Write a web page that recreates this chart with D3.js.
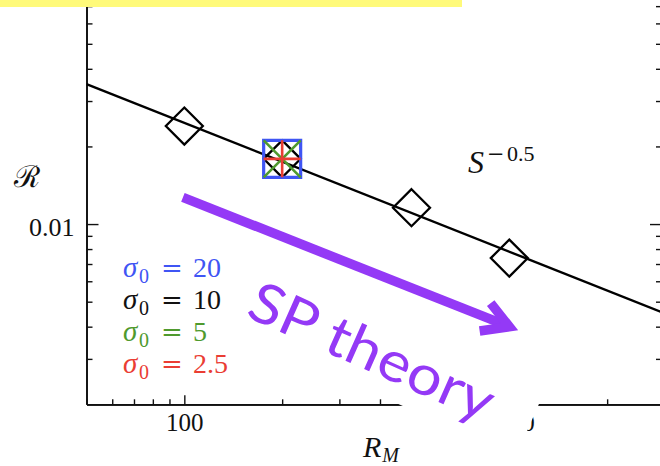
<!DOCTYPE html>
<html>
<head>
<meta charset="utf-8">
<script src="https://cdn.jsdelivr.net/npm/d3@7"></script>
<style>
  html, body { margin: 0; padding: 0; background: #fff; }
  svg { display: block; }
  .axis path, .axis line { stroke: #111; }
  .axis text { font-family: "Liberation Serif", serif; fill: #111; }
</style>
</head>
<body>
<svg id="chart" width="660" height="466"></svg>
<script>
// Ratio R versus R_M on log-log axes, with the S^-0.5 scaling line.
const rmValues = [100, 200, 500, 1000];             // sigma0 = 10 runs (diamonds)
const rValues  = [0.0240, 0.0179, 0.01157, 0.00738];
const extraRM = [200, 200, 200];                     // sigma0 = 20, 5, 2.5 runs
const extraR  = [0.0179, 0.0179, 0.0179];
const fitRM = [50, 2950];                            // S^-0.5 line end points
const fitR  = [0.0349, 0.00455];
const sigmaLabels = ["20", "10", "5", "2.5"];
const sigmaColors = ["#3f55f4", "#111111", "#4f9a2e", "#ea3d33"];
const xMajor = [100, 1000];
const xMinor = [50, 60, 70, 80, 90, 200, 300, 400, 500, 600, 700, 800, 900, 2000];
const yMajor = [0.01];
const yMinor = [0.003, 0.004, 0.005, 0.006, 0.007, 0.008, 0.009,
                0.02, 0.03, 0.04, 0.05, 0.06, 0.07, 0.08, 0.09];
const arrowFrom = [99, 0.0127];
const arrowTo   = [1000, 0.0040];
const notePos   = [153, 0.0044];

const svg = d3.select("#chart");
const x = d3.scaleLog().domain([50, 2950]).range([86.5, 662]);
const y = d3.scaleLog().domain([0.002, 0.1]).range([404.3, -33.8]);
const purple = "#9439f6";

svg.append("defs").append("clipPath").attr("id", "plotClip")
  .append("rect").attr("x", x.range()[0]).attr("y", y.range()[1])
  .attr("width", x.range()[1] - x.range()[0]).attr("height", y.range()[0] - y.range()[1]);

// ---- axes ----
const xAxisG = svg.append("g").attr("transform", `translate(0,${y.range()[0]})`);
xAxisG.append("g").attr("class", "axis")
  .call(d3.axisBottom(x).tickValues(xMinor).tickSize(-5).tickSizeOuter(0).tickFormat(""));
xAxisG.append("g").attr("class", "axis")
  .call(d3.axisBottom(x).tickValues(xMajor).tickSize(-9).tickSizeOuter(0).tickPadding(9)
    .tickFormat(d3.format("d")))
  .call(g => g.selectAll("text").attr("font-size", 25));

const yAxisL = svg.append("g").attr("transform", `translate(${x.range()[0]},0)`);
yAxisL.append("g").attr("class", "axis")
  .call(d3.axisLeft(y).tickValues(yMinor).tickSize(-6).tickSizeOuter(0).tickFormat(""));
yAxisL.append("g").attr("class", "axis")
  .call(d3.axisLeft(y).tickValues(yMajor).tickSize(-12).tickSizeOuter(0).tickPadding(12)
    .tickFormat(d3.format(".2f")))
  .call(g => g.selectAll("text").attr("font-size", 26).attr("dy", "0.45em"));

const yAxisR = svg.append("g").attr("transform", `translate(${x.range()[1]},0)`);
yAxisR.append("g").attr("class", "axis")
  .call(d3.axisRight(y).tickValues(yMinor).tickSize(-6).tickSizeOuter(0).tickFormat(""));
yAxisR.append("g").attr("class", "axis")
  .call(d3.axisRight(y).tickValues(yMajor).tickSize(-12).tickSizeOuter(0).tickFormat(""));

svg.selectAll(".axis path").attr("stroke-width", 1.7);
svg.selectAll(".axis line").attr("stroke-width", 1.4);

// ---- axis titles ----
svg.append("text").attr("x", 14).attr("y", 187)
  .attr("font-family", "DejaVu Serif, serif").attr("font-size", 30).attr("fill", "#111")
  .text("\u211B");

const xt = svg.append("text").attr("x", 363).attr("y", 457)
  .attr("font-family", "Liberation Serif, serif").attr("font-size", 30).attr("fill", "#111");
xt.append("tspan").attr("font-style", "italic").text("R");
xt.append("tspan").attr("font-style", "italic").attr("font-size", 20).attr("dx", 1).attr("dy", 5).text("M");

// ---- S^-0.5 line and markers ----
const plot = svg.append("g").attr("clip-path", "url(#plotClip)");
plot.append("path")
  .datum(fitRM.map((d, i) => [d, fitR[i]]))
  .attr("d", d3.line().x(d => x(d[0])).y(d => y(d[1])))
  .attr("fill", "none").attr("stroke", "#000").attr("stroke-width", 2.4);

const diamond = h => `M0,${-h}L${h},0L0,${h}L${-h},0Z`;
const square = h => `M${-h},${-h}H${h}V${h}H${-h}Z`;
const times = h => `M${-h},${-h}L${h},${h}M${-h},${h}L${h},${-h}`;
const plus = h => `M${-h},0H${h}M0,${-h}V${h}`;

plot.selectAll(".dia").data(rmValues.map((d, i) => [d, rValues[i]]))
  .join("path").attr("class", "dia")
  .attr("transform", d => `translate(${x(d[0])},${y(d[1])})`)
  .attr("d", diamond(18.5))
  .attr("fill", "none").attr("stroke", "#000").attr("stroke-width", 2.3);

const extraShapes = [square, times, plus];
const extraColors = [sigmaColors[0], sigmaColors[2], sigmaColors[3]];
plot.selectAll(".extra").data(extraRM.map((d, i) => [d, extraR[i], i]))
  .join("path").attr("class", "extra")
  .attr("transform", d => `translate(${x(d[0])},${y(d[1])})`)
  .attr("d", d => extraShapes[d[2]](18.5))
  .attr("fill", "none").attr("stroke", d => extraColors[d[2]])
  .attr("stroke-width", d => d[2] === 0 ? 3.2 : 2.6);

// ---- S^-0.5 label ----
svg.append("text").attr("x", 468).attr("y", 173)
  .attr("font-family", "Liberation Serif, serif").attr("font-size", 32).attr("fill", "#111")
  .attr("font-style", "italic").text("S");
svg.append("text").attr("x", 487).attr("y", 161)
  .attr("font-family", "DejaVu Serif, serif").attr("font-size", 21).attr("fill", "#111")
  .text("\u2212");
svg.append("text").attr("x", 507).attr("y", 161)
  .attr("font-family", "Liberation Serif, serif").attr("font-size", 22).attr("fill", "#111")
  .text("0.5");

// ---- legend ----
sigmaLabels.forEach((lab, i) => {
  const by = 277 + 32 * i;
  const g = svg.append("g").attr("fill", sigmaColors[i])
    .attr("font-family", "Liberation Serif, serif");
  g.append("text").attr("x", 123).attr("y", by).attr("font-size", 29)
    .attr("font-style", "italic").text("\u03C3");
  g.append("text").attr("x", 139).attr("y", by + 6).attr("font-size", 20).text("0");
  g.append("text").attr("x", 161).attr("y", by).attr("font-size", 26)
    .attr("font-family", "DejaVu Serif, serif").text("=");
  g.append("text").attr("x", 193).attr("y", by).attr("font-size", 28).text(lab);
});

// ---- "SP theory" note on a white card ----
const ang = Math.atan2(y(arrowTo[1]) - y(arrowFrom[1]), x(arrowTo[0]) - x(arrowFrom[0])) * 180 / Math.PI + 2.3;
const note = svg.append("g")
  .attr("transform", `translate(${x(notePos[0])},${y(notePos[1])}) rotate(${ang})`);
note.append("rect").attr("x", -8).attr("y", -60).attr("width", 313).attr("height", 78)
  .attr("fill", "#fff");
note.append("text").attr("x", 0).attr("y", 0)
  .attr("font-family", "Lato, sans-serif").attr("font-weight", 400).attr("font-size", 56)
  .attr("textLength", 262).attr("lengthAdjust", "spacingAndGlyphs")
  .attr("fill", purple).text("SP theory");

// ---- arrow ----
const a0 = [x(arrowFrom[0]), y(arrowFrom[1])];
const a1 = [x(arrowTo[0]), y(arrowTo[1])];
const phi = Math.atan2(a1[1] - a0[1], a1[0] - a0[0]);
const armL = 30, spread = 30 * Math.PI / 180;
svg.append("path")
  .attr("d", `M${a0[0]},${a0[1]}L${a1[0] - 4 * Math.cos(phi)},${a1[1] - 4 * Math.sin(phi)}`)
  .attr("stroke", purple).attr("stroke-width", 9.5).attr("fill", "none");
svg.append("path")
  .attr("d", `M${a1[0] - armL * Math.cos(phi - spread)},${a1[1] - armL * Math.sin(phi - spread)}` +
             `L${a1[0]},${a1[1]}` +
             `L${a1[0] - armL * Math.cos(phi + spread)},${a1[1] - armL * Math.sin(phi + spread)}`)
  .attr("stroke", purple).attr("stroke-width", 9.5).attr("fill", "none")
  .attr("stroke-linejoin", "miter").attr("stroke-miterlimit", 10);

// ---- highlight band along the top ----
svg.append("rect").attr("x", 0).attr("y", 0).attr("width", 462).attr("height", 7)
  .attr("fill", "#fffa7a");
</script>
</body>
</html>
